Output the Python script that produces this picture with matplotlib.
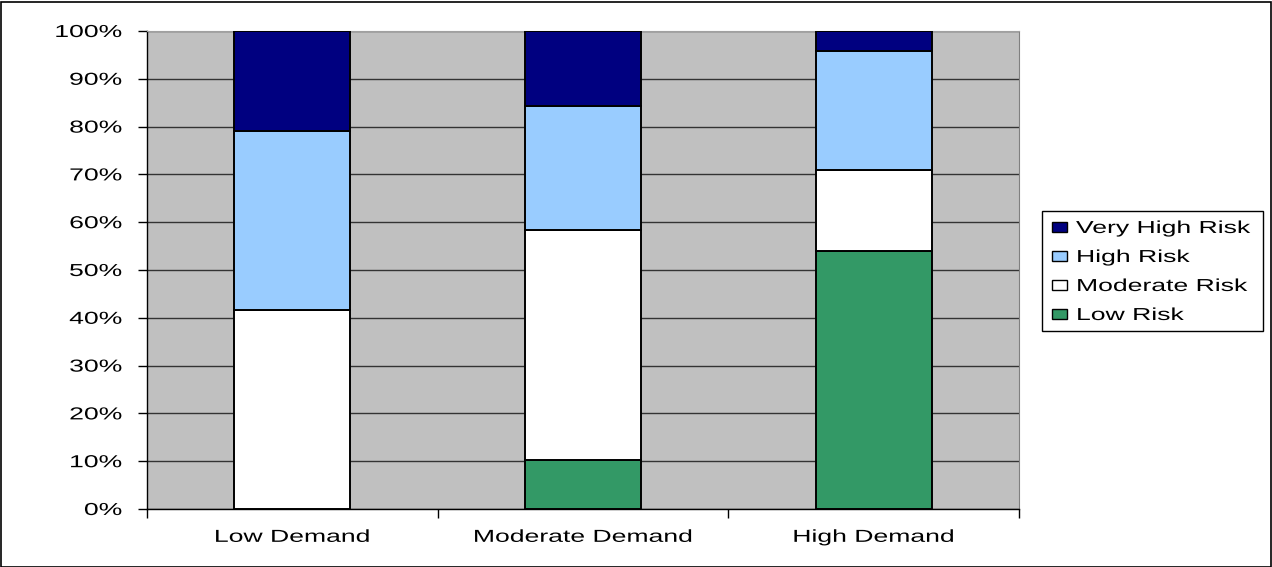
import matplotlib
matplotlib.use("Agg")
import matplotlib.pyplot as plt
from matplotlib.patches import Rectangle
from matplotlib.patheffects import AbstractPathEffect
from matplotlib.transforms import Affine2D
from matplotlib.ticker import FixedLocator, PercentFormatter
import numpy as np

categories = ["Low Demand", "Moderate Demand", "High Demand"]
series_names = ["Low Risk", "Moderate Risk", "High Risk", "Very High Risk"]
low_risk = [0.0, 10.2, 54.0]
moderate_risk = [41.7, 48.2, 16.9]
high_risk = [37.4, 25.9, 24.9]
very_high_risk = [20.9, 15.7, 4.2]
colors = ["#339966", "#FFFFFF", "#99CCFF", "#000080"]

plt.rcParams['font.family'] = ['Liberation Sans', 'DejaVu Sans']

W, H = 1272, 567
FS = 12.5
SX = 1.53


class Stretch(AbstractPathEffect):
    """Stretch text horizontally about an anchor (the reference font is wide)."""
    def __init__(self, sx, anchor="center"):
        super().__init__()
        self.sx = sx
        self.anchor = anchor

    def draw_path(self, renderer, gc, tpath, affine, rgbFace=None):
        ext = tpath.get_extents()
        if self.anchor == "center":
            cx = 0.5 * (ext.x0 + ext.x1)
        elif self.anchor == "right":
            cx = ext.x1
        else:
            cx = 0.0
        t = Affine2D().translate(-cx, 0).scale(self.sx, 1).translate(cx, 0) + affine
        renderer.draw_path(gc, tpath, t, rgbFace)


def fx(x):
    return x / W


def fy(y):
    return 1 - y / H


fig = plt.figure(figsize=(W / 100, H / 100), dpi=100)
ax = fig.add_axes([fx(147), fy(509), (1019 - 147) / W, (509 - 31) / H])
ax.set_facecolor("#C0C0C0")

x = np.arange(len(categories))
bottom = np.zeros(len(categories))
for name, vals, c in zip(series_names, [low_risk, moderate_risk, high_risk, very_high_risk], colors):
    v = np.array(vals)
    ax.bar(x, v, width=0.40, bottom=bottom, color=c, edgecolor="black",
           linewidth=1.4, zorder=3, label=name)
    bottom += v

ax.set_xlim(-0.5, 2.5)
ax.set_ylim(0, 100)
ax.set_yticks(np.arange(0, 101, 10))
ax.yaxis.set_major_formatter(PercentFormatter(decimals=0))
ax.yaxis.grid(True, color="#333333", linewidth=1.0, zorder=1)
ax.set_axisbelow(True)

ax.set_xticks(x)
ax.set_xticklabels(categories)
ax.xaxis.set_minor_locator(FixedLocator([-0.5, 0.5, 1.5, 2.5]))
ax.tick_params(axis='x', which='major', length=0, pad=15, labelsize=FS)
ax.tick_params(axis='x', which='minor', length=6.5, width=1, direction='out')
ax.tick_params(axis='y', length=6.5, width=1, direction='out', labelsize=FS, pad=11.5)

for lab in ax.get_xticklabels():
    lab.set_path_effects([Stretch(SX, "center")])
for lab in ax.get_yticklabels():
    lab.set_path_effects([Stretch(SX, "right")])

for s in ["left", "bottom"]:
    ax.spines[s].set_color("black")
    ax.spines[s].set_linewidth(1.0)
ax.spines["right"].set_color("#808080")
ax.spines["top"].set_color("#A0A0A0")

# Legend (drawn manually so the frame fits the wide text)
fig.patches.append(Rectangle((fx(1042), fy(331)), (1263 - 1042) / W, (331 - 211) / H,
                             transform=fig.transFigure, facecolor="white",
                             edgecolor="black", linewidth=1.0))
row_y = [227, 256, 285, 314]
for i, (name, c) in enumerate(zip(series_names[::-1], colors[::-1])):
    yc = row_y[i]
    fig.patches.append(Rectangle((fx(1052), fy(yc + 5)), 15 / W, 10 / H,
                                 transform=fig.transFigure, facecolor=c,
                                 edgecolor="black", linewidth=1.0))
    t = fig.text(fx(1076), fy(yc), name, fontsize=FS, ha="left", va="center_baseline")
    t.set_path_effects([Stretch(SX, "left")])

fig.patches.append(Rectangle((0.5 / W, 0.5 / H), 1 - 2 / W, 1 - 2 / H,
                             transform=fig.transFigure, fill=False,
                             edgecolor="black", linewidth=1.2))

fig.savefig("out.png", dpi=100)
